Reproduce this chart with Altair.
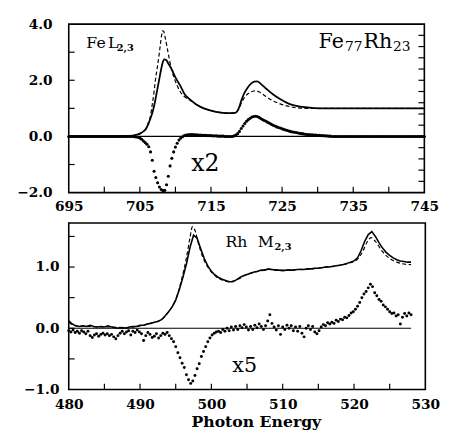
import altair as alt
import pandas as pd

FONT = "DejaVu Serif"

# ---------------- Fe L2,3 panel (top) ----------------
FE_SOLID_E = [695, 700, 703, 704, 704.5, 705, 705.5, 705.8, 706.2, 706.5,
              706.8, 707.1, 707.4, 707.7, 708.0, 708.2, 708.45, 708.7, 709.0, 709.5,
              710.0, 710.7, 711.3, 712.0, 713.0, 714.0, 715.0, 716.4, 717.5, 718.4,
              718.9, 719.3, 719.7, 720.1, 720.6, 721.1, 721.5, 722.0, 722.8, 723.7,
              724.7, 726.0, 727.0, 728.2, 729.5, 731.0, 745.0]
FE_SOLID_V = [0.0, 0.0, 0.01, 0.03, 0.06, 0.1, 0.18, 0.25, 0.45, 0.65,
              0.88, 1.2, 1.6, 2.0, 2.4, 2.62, 2.74, 2.72, 2.6, 2.38,
              2.1, 1.8, 1.5, 1.33, 1.13, 1.0, 0.92, 0.85, 0.83, 0.84,
              1.0, 1.3, 1.55, 1.72, 1.87, 1.95, 1.96, 1.87, 1.69, 1.5,
              1.33, 1.16, 1.09, 1.04, 1.01, 1.0, 1.0]

FE_DASH_E = [695, 703, 704, 704.5, 705, 705.5, 705.8, 706.2, 706.5, 706.75,
             707.0, 707.2, 707.45, 707.7, 707.9, 708.05, 708.2, 708.35, 708.6, 708.95,
             709.4, 709.97, 710.66, 711.35, 712.0, 713.0, 714.0, 715.0, 716.4, 717.5,
             718.4, 718.9, 719.3, 719.7, 720.2, 720.8, 721.3, 721.8, 722.8, 723.7,
             724.7, 725.8, 727.0, 728.5, 745.0]
FE_DASH_V = [0.0, 0.01, 0.03, 0.06, 0.1, 0.18, 0.26, 0.5, 0.75, 1.15,
             1.6, 2.03, 2.45, 2.9, 3.3, 3.59, 3.76, 3.74, 3.47, 3.01,
             2.44, 1.98, 1.6, 1.4, 1.3, 1.12, 1.0, 0.92, 0.85, 0.83,
             0.84, 0.97, 1.2, 1.38, 1.52, 1.6, 1.63, 1.58, 1.41, 1.27,
             1.16, 1.08, 1.02, 1.0, 1.0]

# XMCD (x2) dots, 695.0 .. 745.0 every 0.25 eV
FE_XMCD_START = 695.0
FE_XMCD_STEP = 0.25
FE_XMCD_V = [
    0, 0, 0, 0, 0, 0, 0, 0, 0, 0, 0, 0, 0, 0, 0, 0, 0, 0, 0, 0,
    0, 0, 0, 0, 0, 0, 0, 0, 0, 0, 0, 0, 0, 0, 0, 0, 0, -0.01, -0.02, -0.03,
    -0.06, -0.1, -0.16, -0.22, -0.28, -0.37, -0.55, -0.85, -1.24, -1.46,
    -1.65, -1.8, -1.89, -1.93, -1.92, -1.72, -1.42, -1.05, -0.78, -0.55,
    -0.38, -0.24, -0.13, -0.06, -0.01, 0.03, 0.05, 0.06, 0.07, 0.07,
    0.07, 0.06, 0.06, 0.05, 0.05, 0.04, 0.04, 0.04, 0.03, 0.03,
    0.03, 0.02, 0.02, 0.02, 0.01, 0.01, 0.01, 0.01, 0.0, 0.0,
    0.0, 0.0, 0.0, 0.02, 0.05, 0.1, 0.18, 0.28, 0.37, 0.46,
    0.54, 0.6, 0.65, 0.69, 0.71, 0.72, 0.71, 0.68, 0.64, 0.6,
    0.57, 0.54, 0.5, 0.47, 0.43, 0.4, 0.37, 0.34, 0.32, 0.3,
    0.27, 0.25, 0.23, 0.21, 0.19, 0.17, 0.16, 0.15, 0.14, 0.12,
    0.11, 0.1, 0.09, 0.08, 0.07, 0.07, 0.06, 0.06, 0.05, 0.05,
    0.04, 0.04, 0.03, 0.03, 0.02, 0.02, 0.01, 0.01, 0, 0, 0, 0, 0, 0, 0, 0, 0, 0, 0, 0,
    0, 0, 0, 0, 0, 0, 0, 0, 0, 0, 0, 0, 0, 0, 0, 0, 0, 0, 0, 0,
    0, 0, 0, 0, 0, 0, 0, 0, 0, 0, 0, 0, 0, 0, 0, 0, 0, 0, 0, 0,
    0,
]
FE_ZERO_E = [695, 745]

TOP_X_LABELS = [695, 705, 715, 725, 735, 745]
TOP_X_TICKS = [700, 705, 710, 715, 720, 725, 730, 735, 740]
TOP_Y_LABELS = [-2, 0, 2, 4]
TOP_Y_TICKS = [-1, 0, 1, 2, 3]
TOP_R_TICKS = [-1.6, -1.2, -0.8, -0.4, 0.0, 0.4, 0.8, 1.2, 1.6, 2.0,
               2.4, 2.8, 3.2, 3.6]

# ---------------- Rh M2,3 panel (bottom) ----------------
RH_SOLID_START = 480.0
RH_SOLID_STEP = 0.5
RH_SOLID_V = [
    0.12, 0.07, 0.04, 0.03, 0.04, 0.03, 0.05, 0.03, 0.02, 0.03,
    0.02, 0.04, 0.02, 0.01, 0.0, 0.01, 0.0, 0.02, 0.03, 0.03,
    0.05, 0.05, 0.07, 0.08, 0.1, 0.11, 0.14, 0.2, 0.27, 0.35,
    0.46, 0.63, 0.83, 1.05, 1.32, 1.52, 1.47, 1.3, 1.14, 1.02,
    0.93, 0.87, 0.83, 0.8, 0.78, 0.76, 0.76, 0.79, 0.83, 0.86,
    0.88, 0.9, 0.92, 0.93, 0.95, 0.95, 0.97, 0.96, 0.95, 0.95,
    0.94, 0.95, 0.95, 0.95, 0.96, 0.96, 0.96, 0.97, 0.97, 0.98,
    0.98, 0.99, 1.0, 1.0, 1.01, 1.02, 1.03, 1.04, 1.06, 1.08,
    1.1, 1.15, 1.27, 1.42, 1.53, 1.58, 1.5, 1.4, 1.31, 1.24,
    1.19, 1.15, 1.12, 1.1, 1.09, 1.08, 1.08,
]

RH_DASH_E = [480, 481, 483, 486, 488, 490, 492, 493, 494, 495,
             495.5, 496, 496.5, 497, 497.35, 497.7, 498.2, 498.8, 499.5, 500.5,
             501.5, 502.5, 503.5, 505, 507, 508, 510, 512, 514, 516,
             518, 519.5, 520.5, 521.2, 521.8, 522.4, 523, 524, 525, 526,
             527, 528]
RH_DASH_V = [0.1, 0.04, 0.03, 0.02, 0.01, 0.04, 0.1, 0.14, 0.27, 0.47,
             0.65, 0.88, 1.15, 1.48, 1.66, 1.6, 1.38, 1.16, 1.0, 0.86,
             0.79, 0.76, 0.79, 0.88, 0.94, 0.96, 0.95, 0.96, 0.97, 1.0,
             1.03, 1.07, 1.13, 1.25, 1.4, 1.48, 1.42, 1.25, 1.14, 1.08,
             1.05, 1.04]

# XMCD (x5) dots, 480.0 .. 528.0 every 0.3 eV
RH_XMCD_START = 480.0
RH_XMCD_STEP = 0.3
RH_XMCD_V = [
    -0.04, -0.06, -0.03, -0.07, -0.05, -0.08, -0.04, -0.06, -0.09, -0.05,
    -0.12, -0.15, -0.11, -0.09, -0.13, -0.10, -0.08, -0.11, -0.09, -0.12,
    -0.10, -0.14, -0.17, -0.12, -0.08, -0.05, -0.09, -0.06, -0.04, -0.11,
    -0.05, -0.07, -0.03, -0.06, -0.09, -0.20, -0.12, -0.07, -0.10, -0.15,
    -0.13, -0.09, -0.16, -0.12, -0.08, -0.10, -0.07, -0.12, -0.17, -0.22,
    -0.30, -0.40, -0.48, -0.57, -0.64, -0.76, -0.84, -0.90, -0.86, -0.77,
    -0.66, -0.58, -0.46, -0.38, -0.30, -0.22, -0.16, -0.11, -0.08, -0.06,
    -0.05, -0.07, -0.02, -0.05, 0.0, -0.04, 0.02, -0.03, 0.03, -0.02,
    0.04, 0.01, 0.06, 0.02, -0.03, 0.03, -0.02, 0.05, 0.01, 0.07,
    0.03, -0.02, 0.04, 0.12, 0.22, 0.08, 0.02, -0.03, 0.04, -0.10,
    0.02, -0.02, 0.05, 0.0, 0.04, -0.04, 0.02, -0.05, 0.03, -0.08,
    -0.14, 0.0, 0.04, -0.02, 0.03, -0.06, -0.09, -0.04, 0.02, 0.06,
    0.04, 0.09, 0.07, 0.10, 0.08, 0.13, 0.11, 0.15, 0.14, 0.18,
    0.17, 0.21, 0.25, 0.27, 0.31, 0.36, 0.42, 0.50, 0.56, 0.60,
    0.66, 0.72, 0.68, 0.58, 0.53, 0.47, 0.44, 0.38, 0.35, 0.31,
    0.27, 0.24, 0.25, 0.20, 0.22, 0.07, 0.18, 0.24, 0.20, 0.25,
    0.22,
]
RH_ZERO_E = [480, 528]

BOT_X_LABELS = [480, 490, 500, 510, 520, 530]
BOT_X_TICKS = [485, 490, 495, 500, 505, 510, 515, 520, 525]
BOT_Y_LABELS = [-1, 0, 1]
BOT_Y_TICKS = [-0.5, 0, 0.5, 1.0, 1.5]

# ---------------- build tables ----------------
fe_solid = pd.DataFrame({"E": FE_SOLID_E, "V": FE_SOLID_V})
fe_dash = pd.DataFrame({"E": FE_DASH_E, "V": FE_DASH_V})
fe_xmcd = pd.DataFrame({"E": [FE_XMCD_START + i * FE_XMCD_STEP for i in range(len(FE_XMCD_V))],
                        "V": FE_XMCD_V})
fe_zero = pd.DataFrame({"E": FE_ZERO_E, "V": [0, 0]})

rh_solid = pd.DataFrame({"E": [RH_SOLID_START + i * RH_SOLID_STEP for i in range(len(RH_SOLID_V))],
                         "V": RH_SOLID_V})
rh_dash = pd.DataFrame({"E": RH_DASH_E, "V": RH_DASH_V})
rh_xmcd = pd.DataFrame({"E": [RH_XMCD_START + i * RH_XMCD_STEP for i in range(len(RH_XMCD_V))],
                        "V": RH_XMCD_V})
rh_zero = pd.DataFrame({"E": RH_ZERO_E, "V": [0, 0]})

W1, H1 = 363, 172
W2, H2 = 364, 170
TICK = 6


def make_panel(xdom, ydom, xlabels, ylabels, ylabpad, xlabpad, xtitle):
    xaxis = alt.Axis(values=xlabels, format="d", ticks=False, domain=False, grid=False,
                     labelFont=FONT, labelFontSize=14, labelFontWeight="bold", labelColor="black",
                     labelPadding=xlabpad, labelFlush=False, labelOverlap=False,
                     title=xtitle, titleFont=FONT, titleFontSize=16,
                     titleFontWeight="bold", titleColor="black",
                     titleX=191, titleY=25, titleBaseline="top")
    yaxis = alt.Axis(values=ylabels, format=".1f", ticks=False, domain=False, grid=False,
                     labelFont=FONT, labelFontSize=14, labelFontWeight="bold", labelColor="black",
                     labelPadding=ylabpad, labelFlush=False, labelOverlap=False, title=None)
    x = alt.X("E:Q", scale=alt.Scale(domain=xdom, nice=False, zero=False), axis=xaxis)
    y = alt.Y("V:Q", scale=alt.Scale(domain=ydom, nice=False, zero=False), axis=yaxis)
    return x, y


def text(t, px, py, size, align="left", weight="normal"):
    return alt.Chart(pd.DataFrame({"t": [t]})).mark_text(
        align=align, baseline="alphabetic", font=FONT, fontSize=size, color="black",
        fontWeight=weight
    ).encode(x=alt.value(px), y=alt.value(py), text="t:N")


# ---- top panel ----
tx, ty = make_panel([695, 745], [-2, 4], TOP_X_LABELS, TOP_Y_LABELS, 17, 7, None)

top_layers = [
    alt.Chart(fe_zero).mark_line(color="black", strokeWidth=1.4).encode(x=tx, y=ty),
    alt.Chart(fe_solid).mark_line(color="black", strokeWidth=1.8, interpolate="monotone").encode(x=tx, y=ty),
    alt.Chart(fe_dash).mark_line(color="black", strokeWidth=1.2, strokeDash=[4, 2.5], interpolate="monotone").encode(x=tx, y=ty),
    alt.Chart(fe_xmcd).mark_circle(color="black", size=10, opacity=1).encode(x=tx, y=ty),
    alt.Chart(pd.DataFrame({"E": TOP_X_TICKS})).mark_rule(color="black", strokeWidth=1.2).encode(
        x="E:Q", y=alt.value(H1), y2=alt.value(H1 - TICK)),
    alt.Chart(pd.DataFrame({"V": TOP_Y_TICKS})).mark_rule(color="black", strokeWidth=1.2).encode(
        y="V:Q", x=alt.value(0), x2=alt.value(TICK)),
    alt.Chart(pd.DataFrame({"V": TOP_R_TICKS})).mark_rule(color="black", strokeWidth=1.2).encode(
        y="V:Q", x=alt.value(W1), x2=alt.value(W1 - TICK)),
    text("Fe", 18, 24, 16),
    text("L", 40, 24, 16),
    text("2,3", 49, 27, 10, weight="bold"),
    text("Fe", 255, 24, 21),
    text("77", 282, 27, 14),
    text("Rh", 301, 24, 21),
    text("23", 331, 27, 14),
    text("x2", 125, 150, 24),
]
top = alt.layer(*top_layers).properties(width=W1, height=H1)

# ---- bottom panel ----
bx, by = make_panel([480, 530], [-1, 1.72], BOT_X_LABELS, BOT_Y_LABELS, 10, 8, "Photon Energy")

bot_layers = [
    alt.Chart(rh_zero).mark_line(color="black", strokeWidth=1.2).encode(x=bx, y=by),
    alt.Chart(rh_solid).mark_line(color="black", strokeWidth=1.6).encode(x=bx, y=by),
    alt.Chart(rh_dash).mark_line(color="black", strokeWidth=1.2, strokeDash=[4, 2.5], interpolate="monotone").encode(x=bx, y=by),
    alt.Chart(rh_xmcd).mark_circle(color="black", size=9, opacity=1).encode(x=bx, y=by),
    alt.Chart(pd.DataFrame({"E": BOT_X_TICKS})).mark_rule(color="black", strokeWidth=1.2).encode(
        x="E:Q", y=alt.value(H2), y2=alt.value(H2 - TICK)),
    alt.Chart(pd.DataFrame({"V": BOT_Y_TICKS})).mark_rule(color="black", strokeWidth=1.2).encode(
        y="V:Q", x=alt.value(0), x2=alt.value(TICK)),
    text("Rh", 160, 25, 16),
    text("M", 193, 25, 16),
    text("2,3", 210, 28, 10, weight="bold"),
    text("x5", 167, 152, 21),
]
bottom = alt.layer(*bot_layers).properties(width=W2, height=H2)

chart = alt.vconcat(top, bottom, spacing=8).resolve_scale(
    x="independent", y="independent"
).properties(
    padding={"left": 8, "top": 4, "right": 0, "bottom": 0},
    background="white",
).configure_view(stroke="black", strokeWidth=1.6)

chart.save("out.html", embed_options={"renderer": "svg", "actions": False})
